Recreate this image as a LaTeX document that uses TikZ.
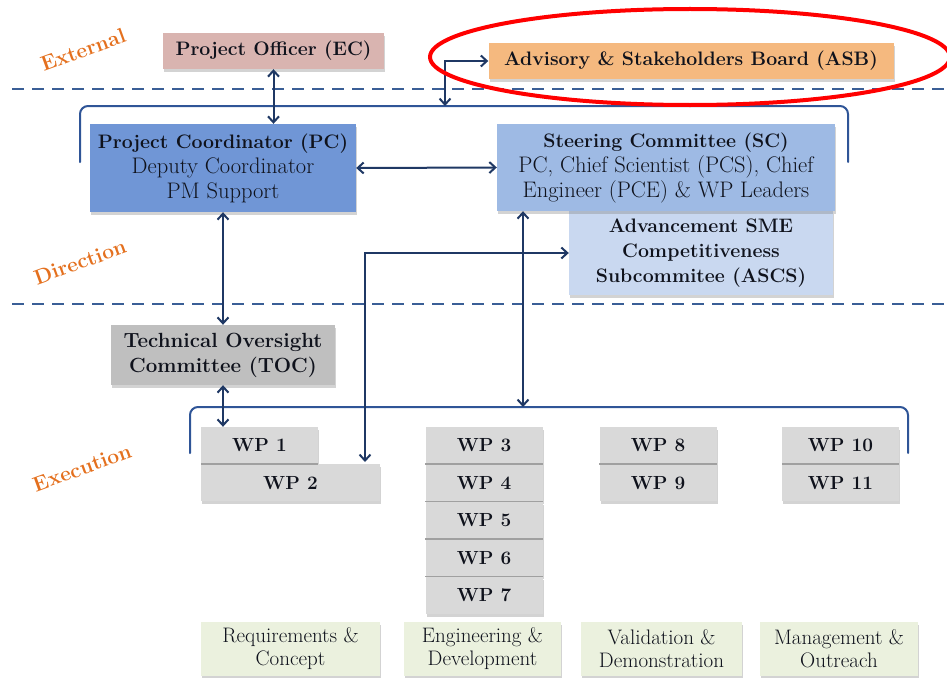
\documentclass[tikz,border=0pt]{standalone}
\usepackage{fontspec}
\usepackage{tikz}
\usetikzlibrary{arrows.meta,positioning,shadows}
\usepackage{xcolor}
\definecolor{officerpink}{RGB}{217,180,176}
\definecolor{boardorange}{RGB}{245,185,127}
\definecolor{coordblue}{RGB}{112,150,214}
\definecolor{steerblue}{RGB}{158,186,228}
\definecolor{ascsblue}{RGB}{201,216,240}
\definecolor{tocgray}{RGB}{191,191,191}
\definecolor{wpgray}{RGB}{217,217,217}
\definecolor{seamgray}{RGB}{160,160,160}
\definecolor{areagreen}{RGB}{235,241,222}
\definecolor{linknavy}{RGB}{31,56,100}
\definecolor{braceblue}{RGB}{47,85,151}
\definecolor{levelblue}{RGB}{58,94,150}
\definecolor{tierorange}{RGB}{228,112,30}
\definecolor{textdark}{RGB}{15,18,28}
\newcommand\boxtitle[1]{{\fontsize{19.5}{25}\selectfont\bfseries #1}}

\begin{document}
\begin{tikzpicture}[x=1pt,y=-1pt,>={Straight Barb[length=6pt,width=11pt]},line cap=round,
  box/.style={align=center,inner sep=0pt,text=textdark,font=\fontsize{22.5}{25}\selectfont,
    drop shadow={shadow xshift=1pt,shadow yshift=-3pt,opacity=0.35}},
  boldbox/.style={box,font=\fontsize{19.5}{25}\selectfont\bfseries},
  wp/.style={box,fill=wpgray,minimum width=117pt,minimum height=37pt,font=\fontsize{19}{20}\selectfont\bfseries},
  seam/.style={seamgray,line width=1.5pt,line cap=butt},
  area/.style={box,fill=areagreen,minimum height=54pt,font=\fontsize{21}{23}\selectfont},
  link/.style={<->,linknavy,line width=2pt},
  brace/.style={braceblue,line width=2pt,rounded corners=8pt},
  level/.style={levelblue,line width=2.5pt,dash pattern=on 12pt off 8pt,line cap=butt},
  tier/.style={text=tierorange,font=\fontsize{21}{22}\selectfont\bfseries,rotate=20}]
\useasboundingbox (0,0) rectangle (947,677);
% layer separators and brackets
\draw[level] (12,89) -- (947,89);
\draw[level] (12,304) -- (947,304);
\draw[brace] (80,162) -- (80,106) -- (848,106) -- (848,162);
\draw[brace] (190,453) -- (190,407) -- (908,407) -- (908,453);
% tier labels
\node[tier] (external) at (83,50) {External};
\node[tier] (direction) at (80,262) {Direction};
\node[tier] (execution) at (82,468) {Execution};
% external
\node[boldbox,fill=officerpink,minimum width=221pt,minimum height=36pt] (po) at (273.5,51) {Project Officer (EC)};
\node[boldbox,fill=boardorange,minimum width=405pt,minimum height=36pt] (asb) at (691,61) {Advisory \& Stakeholders Board (ASB)};
% direction
\node[box,fill=coordblue,minimum width=266pt,minimum height=88pt] (pc) at (223,168) {\boxtitle{Project Coordinator (PC)}\\Deputy Coordinator\\PM Support};
\node[boldbox,fill=ascsblue,minimum width=264pt,minimum height=84pt] (ascs) at (701,253) {Advancement SME\\Competitiveness\\Subcommitee (ASCS)};
\node[box,fill=steerblue,minimum width=338pt,minimum height=87pt] (sc) at (666,167.5) {\boxtitle{Steering Committee (SC)}\\PC, Chief Scientist (PCS), Chief\\Engineer (PCE) \& WP Leaders};
% execution
\node[boldbox,fill=tocgray,minimum width=224pt,minimum height=60pt,font=\fontsize{20.5}{25}\selectfont\bfseries] (toc) at (223,355) {Technical Oversight\\Committee (TOC)};
\node[wp] (wp1) at (259.5,445.5) {WP 1};
\node[wp,minimum width=179pt,anchor=north west] (wp2) at (wp1.south west) {WP 2};
\node[wp] (wp3) at (484,445.5) {WP 3};
\node[wp,below=0pt of wp3] (wp4) {WP 4};
\node[wp,below=0pt of wp4] (wp5) {WP 5};
\node[wp,below=0pt of wp5] (wp6) {WP 6};
\node[wp,below=0pt of wp6] (wp7) {WP 7};
\node[wp] (wp8) at (658,445.5) {WP 8};
\node[wp,below=0pt of wp8] (wp9) {WP 9};
\node[wp] (wp10) at (840.5,445.5) {WP 10};
\node[wp,below=0pt of wp10] (wp11) {WP 11};
% seams between stacked work packages
\draw[seam] (wp1.south west) -- (wp1.south east);
\draw[seam] (wp3.south west) -- (wp3.south east);
\draw[seam] (wp4.south west) -- (wp4.south east);
\draw[seam] (wp5.south west) -- (wp5.south east);
\draw[seam] (wp6.south west) -- (wp6.south east);
\draw[seam] (wp8.south west) -- (wp8.south east);
\draw[seam] (wp10.south west) -- (wp10.south east);
% work areas
\node[area,minimum width=179pt] (req) at (290.5,649) {Requirements \&\\Concept};
\node[area,minimum width=157pt] (eng) at (482.5,649) {Engineering \&\\Development};
\node[area,minimum width=161pt] (val) at (661.5,649) {Validation \&\\Demonstration};
\node[area,minimum width=158pt] (man) at (839,649) {Management \&\\Outreach};
% connectors
\coordinate (asbfoot) at (445,106);
\coordinate (scfoot) at (523,407);
\coordinate (wp2tip) at (365,462);
\draw[link] (po.south) -- (po.south |- pc.north);
\draw[link] (asbfoot) |- (asb.west);
\draw[link] (pc.east) -- (sc.west);
\draw[link] (pc.south) -- (toc.north);
\draw[link] (toc.south) -- (toc.south |- wp1.north);
\draw[link] (scfoot) -- (scfoot |- sc.south);
\draw[link] (ascs.west) -| (wp2tip);
% highlight
\begin{scope}
\clip (0,0) rectangle (947,677);
\draw[red,line width=4pt] (690,57) ellipse [x radius=260,y radius=48];
\end{scope}
\end{tikzpicture}
\end{document}
